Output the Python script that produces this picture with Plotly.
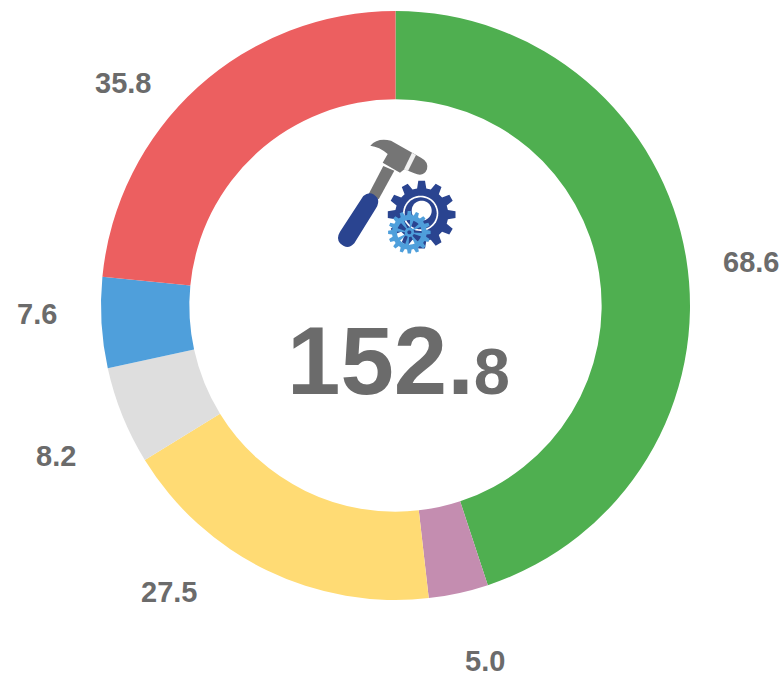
import math
import plotly.graph_objects as go

labels = ["A", "B", "C", "D", "E", "F"]
values = [68.6, 5.0, 27.5, 8.2, 7.6, 35.8]
colors = ["#4FAF50", "#C48DB0", "#FFDB74", "#DEDEDE", "#4F9FDB", "#EC5F60"]
total_main = "152."
total_frac = "8"

W, H = 784, 674
TEXT = "#6B6B6B"
NAVY = "#2A4490"
LIGHT = "#4F9FDB"
GREY = "#757575"

label_pos = [(751, 262), (485, 661), (169, 592), (56, 456), (37, 314), (123, 83)]


def px(x):
    return x / W


def py(y):
    return 1 - y / H


def Z(zx, zy):
    return f"{326 + zx / 3:.1f},{130 + zy / 3:.1f}"


fig = go.Figure(go.Pie(
    labels=labels, values=values, sort=False, direction="clockwise", rotation=0,
    hole=0.7, marker=dict(colors=colors, line=dict(width=0)),
    textinfo="none", hoverinfo="label+value", showlegend=False,
    domain=dict(x=[px(395.5 - 294.5), px(395.5 + 294.5)], y=[py(600), py(11)]),
))

ann = []
for v, (x, y) in zip(values, label_pos):
    ann.append(dict(x=px(x), y=py(y), xref="paper", yref="paper", text=f"{v:.1f}", showarrow=False,
                    font=dict(family="Liberation Sans", size=29, color=TEXT, weight="bold"),
                    xanchor="center", yanchor="middle"))
ann.append(dict(x=px(398), y=py(360), xref="paper", yref="paper",
                text=f"{total_main}<span style='font-size:65px'>{total_frac}</span>", showarrow=False,
                font=dict(family="Liberation Sans", size=96, color=TEXT, weight="bold"),
                xanchor="center", yanchor="middle"))

shapes = []


def path(d, fill):
    shapes.append(dict(type="path", xref="x", yref="y", path=d, fillcolor=fill, line=dict(width=0)))


def gear_pts(cx, cy, ro, ri, n):
    pts = []
    for i in range(n):
        a = 2 * math.pi * i / n
        w = 2 * math.pi / n
        for da, r in [(-0.33, ri), (-0.19, ro), (0.19, ro), (0.33, ri)]:
            t = a + da * w
            pts.append(Z(cx + r * math.cos(t), cy + r * math.sin(t)))
    return "M" + " L".join(pts) + " Z"


def circle(cx, cy, r, rev=False):
    n = 48
    seq = range(n, 0, -1) if rev else range(n)
    pts = [Z(cx + r * math.cos(2 * math.pi * i / n), cy + r * math.sin(2 * math.pi * i / n)) for i in seq]
    return "M" + " L".join(pts) + " Z"


# hammer handle, head, and grip
path(f"M{Z(172, 108)} L{Z(205, 122)} L{Z(158, 208)} L{Z(128, 192)} Z", GREY)
path(f"M{Z(133, 47)} Q{Z(155, 22)} {Z(195, 32)} L{Z(285, 83)} Q{Z(308, 95)} {Z(303, 118)} "
     f"Q{Z(293, 142)} {Z(265, 130)} L{Z(235, 118)} L{Z(222, 128)} L{Z(170, 98)} L{Z(185, 72)} "
     f"Q{Z(160, 50)} {Z(133, 47)} Z", GREY)
path(f"M{Z(258, 68)} L{Z(270, 75)} L{Z(246, 123)} L{Z(234, 118)} Z", "#F0F0F0")
path(f"M{Z(112, 198)} Q{Z(135, 178)} {Z(155, 205)} Q{Z(160, 220)} {Z(150, 235)} L{Z(85, 340)} "
     f"Q{Z(65, 362)} {Z(42, 340)} Q{Z(30, 325)} {Z(42, 305)} Z", NAVY)

# large gear with its thin white ring and off-centre opening
path(gear_pts(287, 254, 102, 80, 12), NAVY)
path(circle(284, 250, 53), "#FFFFFF")
path(circle(284, 250, 48), NAVY)
path(circle(287, 242, 30), "#FFFFFF")

# small gear: an open rim, so the large gear shows through between the spokes
path(gear_pts(250, 307, 64, 52, 16) + " " + circle(250, 307, 37, rev=True), LIGHT)
for k in range(8):
    a = math.pi / 4 * k + 0.2
    a2 = a + 0.14
    a3 = a - 0.14
    path(f"M{Z(250 + 8 * math.cos(a3), 307 + 8 * math.sin(a3))} "
         f"L{Z(250 + 40 * math.cos(a3), 307 + 40 * math.sin(a3))} "
         f"L{Z(250 + 40 * math.cos(a2), 307 + 40 * math.sin(a2))} "
         f"L{Z(250 + 8 * math.cos(a2), 307 + 8 * math.sin(a2))} Z", LIGHT)
path(circle(250, 307, 14), LIGHT)
path(circle(250, 307, 6), NAVY)

fig.update_layout(
    width=W, height=H, margin=dict(l=0, r=0, t=0, b=0),
    paper_bgcolor="#FFFFFF", plot_bgcolor="#FFFFFF",
    annotations=ann, shapes=shapes,
    xaxis=dict(visible=False, range=[0, W], domain=[0, 1], fixedrange=True),
    yaxis=dict(visible=False, range=[H, 0], domain=[0, 1], fixedrange=True),
)
fig.write_html("out.html", config={"displayModeBar": False},
               post_script="document.body.style.margin='0';document.documentElement.style.overflow='hidden';")
